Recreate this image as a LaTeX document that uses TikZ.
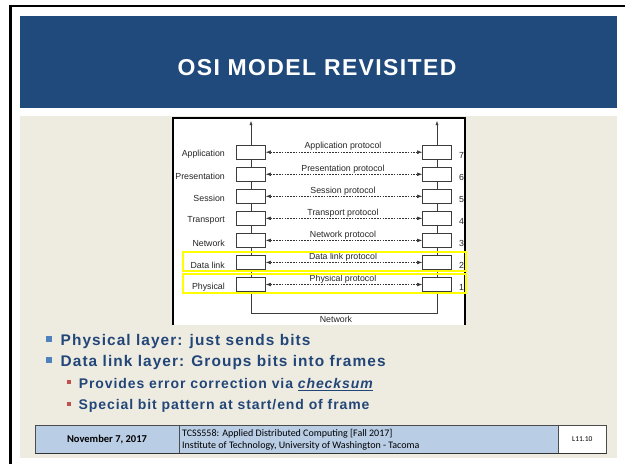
\documentclass[tikz,border=0pt]{standalone}
\usepackage{fontspec}
\setmainfont{Liberation Sans}
\newfontfamily\titlefont[LetterSpace=6]{Liberation Sans}
\newfontfamily\bulletfont[LetterSpace=7]{Liberation Sans}
\newfontfamily\subfont[LetterSpace=6.5]{Liberation Sans}
\newfontfamily\footfont{Carlito}
\usetikzlibrary{arrows.meta}
\definecolor{bandblue}{RGB}{32,73,124}
\definecolor{textblue}{RGB}{35,70,120}
\definecolor{beige}{RGB}{238,236,225}
\definecolor{bulblue}{RGB}{79,129,189}
\definecolor{bulred}{RGB}{192,80,77}
\definecolor{footblue}{RGB}{185,205,229}
\definecolor{diagline}{RGB}{60,60,60}
\begin{document}
\begin{tikzpicture}[x=1pt,y=-1pt,
  layerbox/.style={draw=diagline,fill=white,line width=0.6pt,minimum width=29pt,minimum height=14.3pt,inner sep=0pt},
  proto/.style={draw=black!80,line width=0.5pt,dash pattern=on 1.6pt off 1.2pt,{Latex[length=5pt,width=3.6pt]}-{Latex[length=5pt,width=3.6pt]}},
  axis/.style={draw=diagline,line width=0.6pt},
  diagtext/.style={font=\fontsize{8.8}{10}\selectfont,text=black!85,inner sep=0pt},
  protolabel/.style={diagtext,anchor=center},
  layerlabel/.style={diagtext,anchor=east},
  numlabel/.style={diagtext,anchor=west},
  hilite/.style={draw={rgb,255:red,255;green,255;blue,0},line width=2pt},
  lvlone/.style={anchor=base west,inner sep=0pt,text=textblue,font=\bulletfont\bfseries\fontsize{15.4}{18}\selectfont},
  lvltwo/.style={anchor=base west,inner sep=0pt,text=textblue,font=\subfont\bfseries\fontsize{14}{17}\selectfont},
  footcell/.style={draw=black!70,line width=0.7pt},
]
\useasboundingbox (0,0) rectangle (625,464);
\fill[white] (0,0) rectangle (625,464);
% outer frame
\draw[black,line width=2.5pt] (10.7,5) -- (10.7,464);
\draw[black,line width=2pt] (9.5,6) -- (625,6);
% title band
\fill[bandblue] (20,16) rectangle (616.7,108);
\node[text=white,inner sep=0pt,font=\titlefont\bfseries\fontsize{23}{28}\selectfont] (title) at (317,68) {OSI MODEL REVISITED};
% content background
\fill[beige] (20,116) rectangle (616.7,457.5);
% diagram frame
\fill[white] (172,117) rectangle (466,325);
\draw[black,line width=2pt] (173.3,325) -- (173.3,117.5) -- (465,117.5) -- (465,325);
% layers
\foreach \lname/\num [count=\i from 0] in {Application/7,Presentation/6,Session/5,Transport/4,Network/3,Data link/2,Physical/1} {
  \pgfmathsetmacro\yy{152.2+22.05*\i}
  \node[layerbox] (L\num) at (251,\yy) {};
  \node[layerbox] (R\num) at (437,\yy) {};
  \draw[proto] (L\num) -- (R\num);
  \node[protolabel] (P\num) at (343,\yy-5.5) {\lname\ protocol};
  \node[layerlabel] (N\num) at (225,\yy+2.5) {\lname};
  \node[numlabel] (K\num) at (459,\yy+3) {\num};
}
% axes
\coordinate (LT) at (251,120.7);
\coordinate (RT) at (437,120.7);
\coordinate (LB) at (251,313.3);
\coordinate (RB) at (437,313.3);
\draw[axis,-{Latex[length=4.5pt,width=3.2pt]}] (L7) -- (LT);
\draw[axis,-{Latex[length=4.5pt,width=3.2pt]}] (R7) -- (RT);
\foreach \a/\b in {7/6,6/5,5/4,4/3,3/2,2/1} {
  \draw[axis] (L\a) -- (L\b);
  \draw[axis] (R\a) -- (R\b);
}
\draw[axis] (L1) -- (LB) -- (RB) -- (R1);
\node[diagtext] (net) at (336,319.3) {Network};
% highlights
\draw[hilite] (183.3,252.3) rectangle (466,270.7);
\draw[hilite] (183.3,274) rectangle (466,293.3);
% bullets
\fill[bulblue] (46,336) rectangle (52,342);
\fill[bulblue] (46,357.3) rectangle (52,363.3);
\fill[bulred] (67.3,380.3) rectangle (71.3,384.3);
\fill[bulred] (67.3,401.7) rectangle (71.3,405.7);
\node[lvlone] (b1) at (60.5,345.2) {Physical layer: just sends bits};
\node[lvlone] (b2) at (60.5,366.6) {Data link layer: Groups bits into frames};
\node[lvltwo] (b3) at (78.7,388.3) {Provides error correction via \underline{\itshape checksum}};
\node[lvltwo] (b4) at (78.5,409.6) {Special bit pattern at start/end of frame};
% footer
\fill[footblue] (35,425) rectangle (558,453.5);
\fill[white] (558,425) rectangle (606.7,453.5);
\draw[footcell] (35,425) rectangle (179,453.5);
\draw[footcell] (179,425) rectangle (558,453.5);
\draw[footcell] (558,425) rectangle (606.7,453.5);
\draw[black!80,line width=1.4pt] (35,453.3) -- (606.7,453.3);
\node[font=\footfont\bfseries\fontsize{10.5}{12}\selectfont,inner sep=0pt] (date) at (107,439.5) {November 7, 2017};
\node[font=\footfont\fontsize{10}{11.7}\selectfont,inner sep=0pt,anchor=west,align=left] (course) at (182,439.8) {TCSS558: Applied Distributed Computing [Fall 2017]\\Institute of Technology, University of Washington - Tacoma};
\node[font=\footfont\fontsize{7.5}{9}\selectfont,inner sep=0pt] (lec) at (582.3,439.3) {L11.10};
\end{tikzpicture}
\end{document}
